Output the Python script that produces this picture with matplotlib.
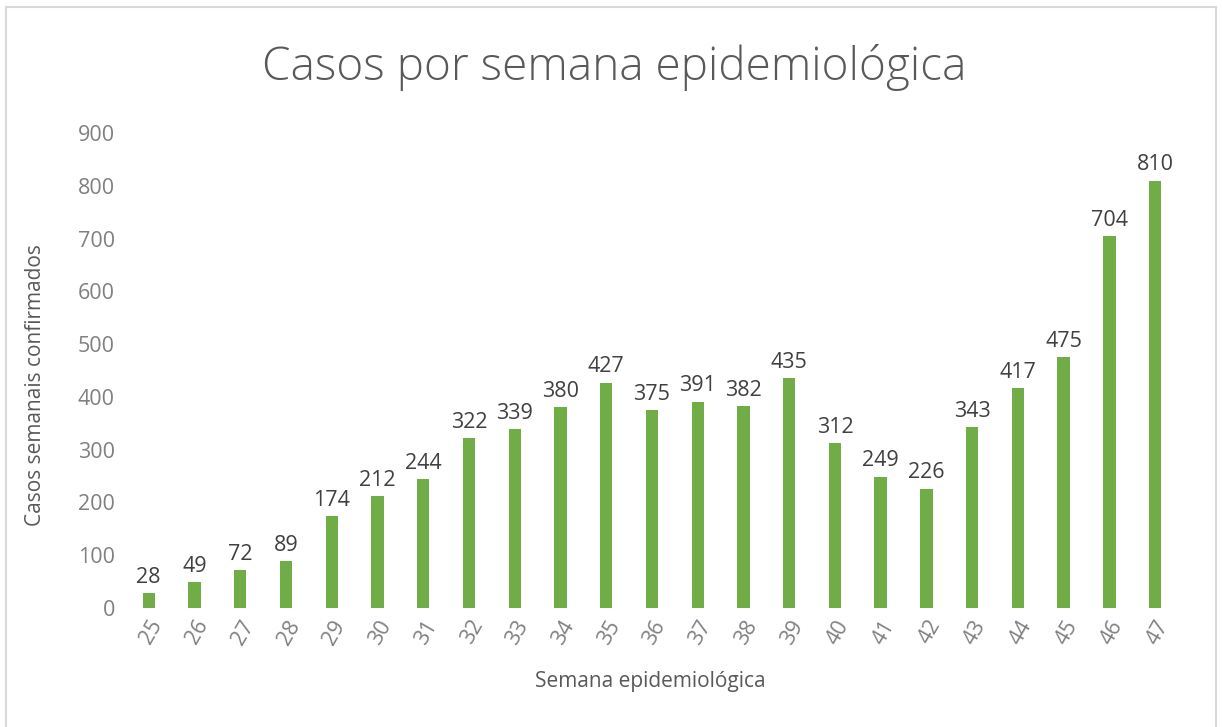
import numpy as np
import matplotlib.pyplot as plt
from matplotlib.patches import Rectangle

plt.rcParams['font.family'] = ['Open Sans', 'DejaVu Sans']

# Data
semanas = [str(s) for s in range(25, 48)]
casos = [28, 49, 72, 89, 174, 212, 244, 322, 339, 380, 427, 375, 391, 382,
         435, 312, 249, 226, 343, 417, 475, 704, 810]

titulo = "Casos por semana epidemiológica"
xlabel = "Semana epidemiológica"
ylabel = "Casos semanais confirmados"

bar_color = '#70AD47'
tick_color = '#808080'

fig = plt.figure(figsize=(12.22, 7.27), dpi=100)

# light chart border
fig.patches.append(Rectangle((0.005, -0.01), 0.99, 1.0,
                             transform=fig.transFigure, fill=False,
                             edgecolor='#d9d9d9', linewidth=1.5))

ax = fig.add_axes([0.103, 0.1637, 0.861, 0.6533])

x = np.arange(len(semanas))
bars = ax.bar(x, casos, width=0.27, color=bar_color)

ax.set_xlim(-0.5, len(semanas) - 0.5)
ax.set_ylim(0, 900)
ax.set_yticks(np.arange(0, 901, 100))

ax.set_xticks(x)
ax.set_xticklabels(semanas, rotation=60, ha='right', rotation_mode='anchor')

for s in ax.spines.values():
    s.set_visible(False)
ax.tick_params(length=0, colors=tick_color, labelsize=15.5)
ax.tick_params(axis='x', pad=6)
ax.tick_params(axis='y', pad=8)

for xi, v in zip(x, casos):
    ax.text(xi, v + 10, str(v), ha='center', va='bottom',
            fontsize=15.5, color='#404040')

fig.text(0.503, 0.907, titulo, ha='center', va='center',
         fontsize=33, color='#595959', fontweight='light')
fig.text(0.532, 0.063, xlabel, ha='center', va='center',
         fontsize=15, color='#595959')
fig.text(0.029, 0.47, ylabel, ha='center', va='center',
         fontsize=15, color='#595959', rotation=90)

fig.savefig('out.png', dpi=100)
